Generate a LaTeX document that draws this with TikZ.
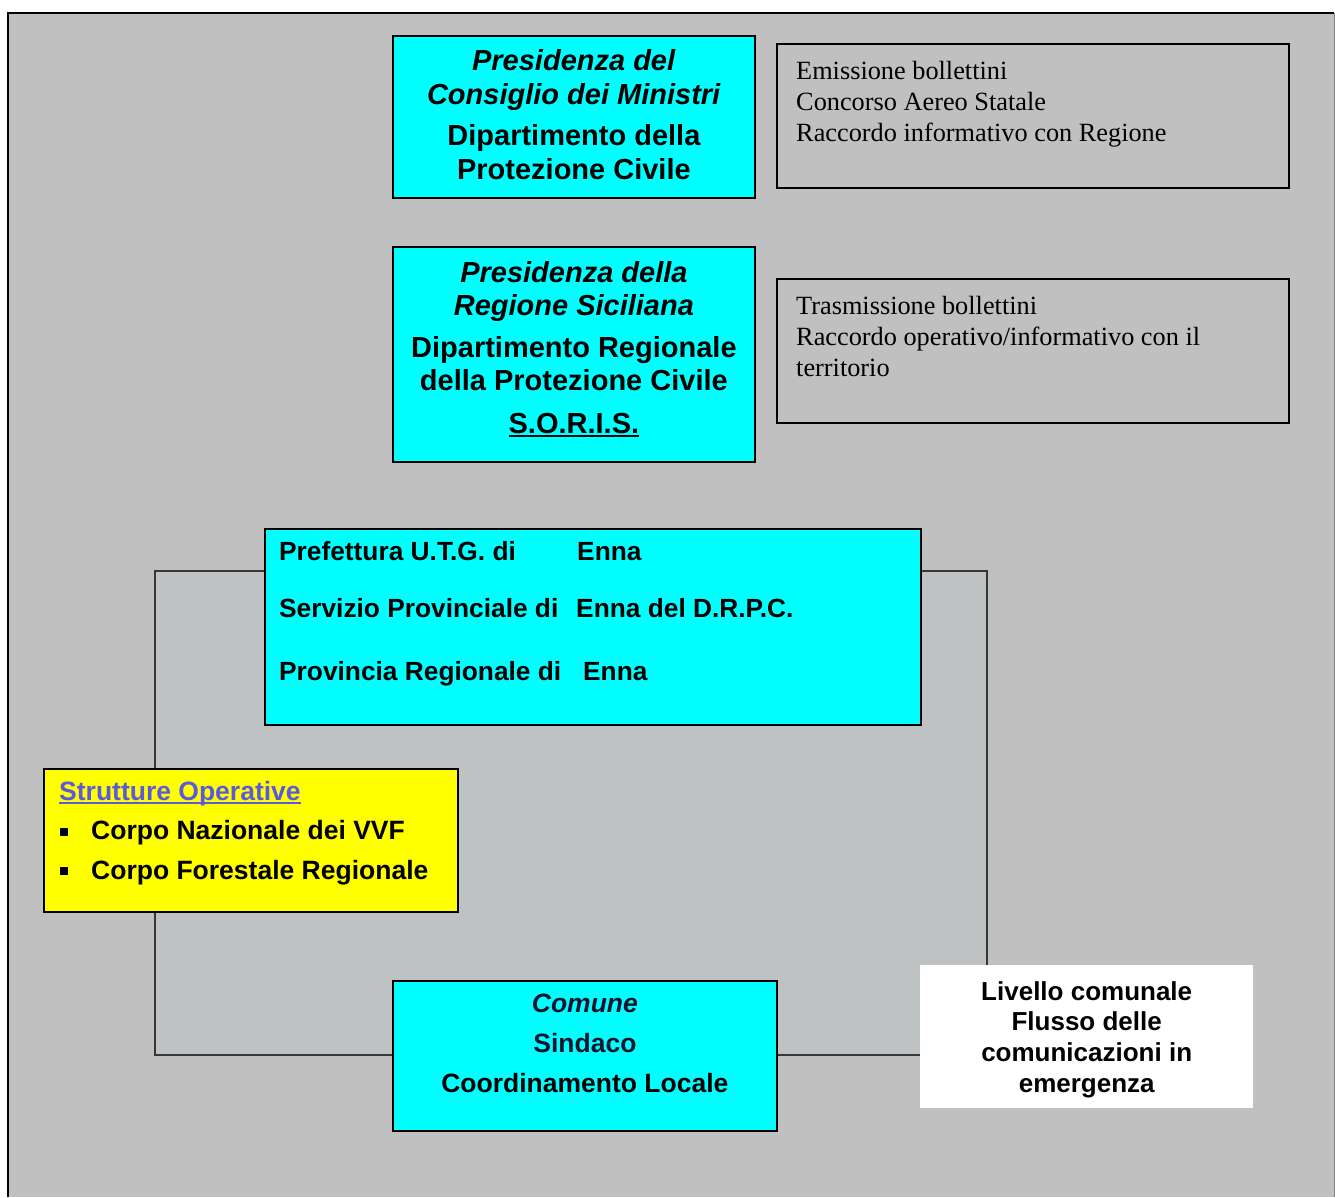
\documentclass[tikz,border=0pt]{standalone}
\usepackage{fontspec}
\setmainfont{Liberation Sans}
\newfontfamily\timesfont{Liberation Serif}
\usetikzlibrary{positioning}

\newsavebox{\ulbox}
\newcommand{\thickul}[1]{\sbox{\ulbox}{#1}\rlap{\rule[-4pt]{\wd\ulbox}{2pt}}\usebox{\ulbox}}

\definecolor{framegray}{RGB}{192,192,192}
\definecolor{loopgray}{RGB}{190,194,195}
\definecolor{boxcyan}{RGB}{0,255,255}
\definecolor{boxyellow}{RGB}{255,255,0}
\definecolor{linkgray}{RGB}{55,55,55}
\definecolor{titleblue}{RGB}{92,90,220}
\definecolor{darkink}{RGB}{20,20,45}

\tikzset{
  cyanbox/.style={draw=black, line width=1.8pt, fill=boxcyan, inner sep=0pt, anchor=north west},
  notebox/.style={draw=black, line width=1.8pt, inner sep=0pt, anchor=north west},
  link/.style={draw=linkgray, line width=2pt},
  boxtext/.style={inner sep=0pt, align=center},
  notetext/.style={inner sep=0pt, align=left, font=\timesfont\fontsize{26.3}{31}\selectfont},
}

\begin{document}
\begin{tikzpicture}[x=1pt, y=-1pt]
	\useasboundingbox (0,0) rectangle (1335,1197);

	% sfondo
	\fill[white] (0,0) rectangle (1335,1197);
	\fill[framegray] (8,13) rectangle (1335,1197);
	\draw[line width=2.5pt] (8,1197) -- (8,13) -- (1334,13);
	\draw[line width=1pt, gray] (1334,13) -- (1334,1197);

	% area del flusso
	\coordinate (loopNW) at (155,571);
	\coordinate (loopSE) at (987,1055);
	\fill[loopgray] (loopNW) rectangle (loopSE);

	% livello nazionale
	\node[cyanbox, minimum width=362pt, minimum height=162pt] (presid) at (392,35) {};
	\node[boxtext, font=\bfseries\fontsize{29}{34}\selectfont, below=14pt of presid.north] (presidTxt)
		{\textit{Presidenza del}\\ \textit{Consiglio dei Ministri}\\[7pt] Dipartimento della\\ Protezione Civile};
	\node[notebox, minimum width=512pt, minimum height=144pt] (emiss) at (776,43) {};
	\node[notetext, below right=18pt and 20pt of emiss.north west] (emissTxt)
		{Emissione bollettini\\ Concorso Aereo Statale\\ Raccordo informativo con Regione};

	% livello regionale
	\node[cyanbox, minimum width=362pt, minimum height=215pt] (regione) at (392,246) {};
	\node[boxtext, font=\bfseries\fontsize{29}{33}\selectfont, below=15pt of regione.north] (regioneTxt)
		{\textit{Presidenza della}\\ \textit{Regione Siciliana}\\[9pt] Dipartimento Regionale\\ della Protezione Civile\\[10pt] \thickul{S.O.R.I.S.}};
	\node[notebox, minimum width=512pt, minimum height=144pt] (trasm) at (776,278) {};
	\node[notetext, below right=18pt and 20pt of trasm.north west] (trasmTxt)
		{Trasmissione bollettini\\ Raccordo operativo/informativo con il\\ territorio};

	% livello provinciale
	\node[cyanbox, minimum width=656pt, minimum height=196pt] (pref) at (264,528) {};
	\node[boxtext, align=left, font=\bfseries\fontsize{26.3}{30}\selectfont, below right=13pt and 15pt of pref.north west] (prefTxt)
		{\makebox[298pt][l]{Prefettura U.T.G. di}Enna\\[27pt]
		 \makebox[297pt][l]{Servizio Provinciale di}Enna del D.R.P.C.\\[33pt]
		 \makebox[304pt][l]{Provincia Regionale di}Enna};

	% strutture operative
	\node[notebox, fill=boxyellow, minimum width=414pt, minimum height=143pt] (strut) at (43,768) {};
	\node[boxtext, align=left, font=\bfseries\fontsize{26.5}{39.5}\selectfont, below right=13pt and 16pt of strut.north west] (strutTxt)
		{\textcolor{titleblue}{\thickul{Strutture Operative}}\\
		 \makebox[32pt][l]{\hspace{1pt}\raisebox{4pt}{\rule{8pt}{8pt}}}Corpo Nazionale dei VVF\\
		 \makebox[32pt][l]{\hspace{1pt}\raisebox{4pt}{\rule{8pt}{8pt}}}Corpo Forestale Regionale};

	% livello comunale
	\node[cyanbox, minimum width=384pt, minimum height=150pt] (comune) at (392,980) {};
	\node[boxtext, font=\bfseries\fontsize{26.5}{40}\selectfont, below=14pt of comune.north] (comuneTxt)
		{\textcolor{darkink}{\textit{Comune}}\\ \textcolor{darkink}{Sindaco}\\ Coordinamento Locale};
	\node[fill=white, inner sep=0pt, minimum width=333pt, minimum height=143pt, anchor=north west] (livello) at (920,965) {};
	\node[boxtext, font=\bfseries\fontsize{26}{30.7}\selectfont, below=16pt of livello.north] (livelloTxt)
		{Livello comunale\\ Flusso delle\\ comunicazioni in\\ emergenza};

	% collegamenti
	\draw[link] (pref.west |- loopNW) -| (strut.north -| loopNW);
	\draw[link] (strut.south -| loopNW) |- (comune.west |- loopSE);
	\draw[link] (comune.east |- loopSE) -- (livello.west |- loopSE);
	\draw[link] (livello.north -| loopSE) |- (pref.east |- loopNW);
\end{tikzpicture}
\end{document}
